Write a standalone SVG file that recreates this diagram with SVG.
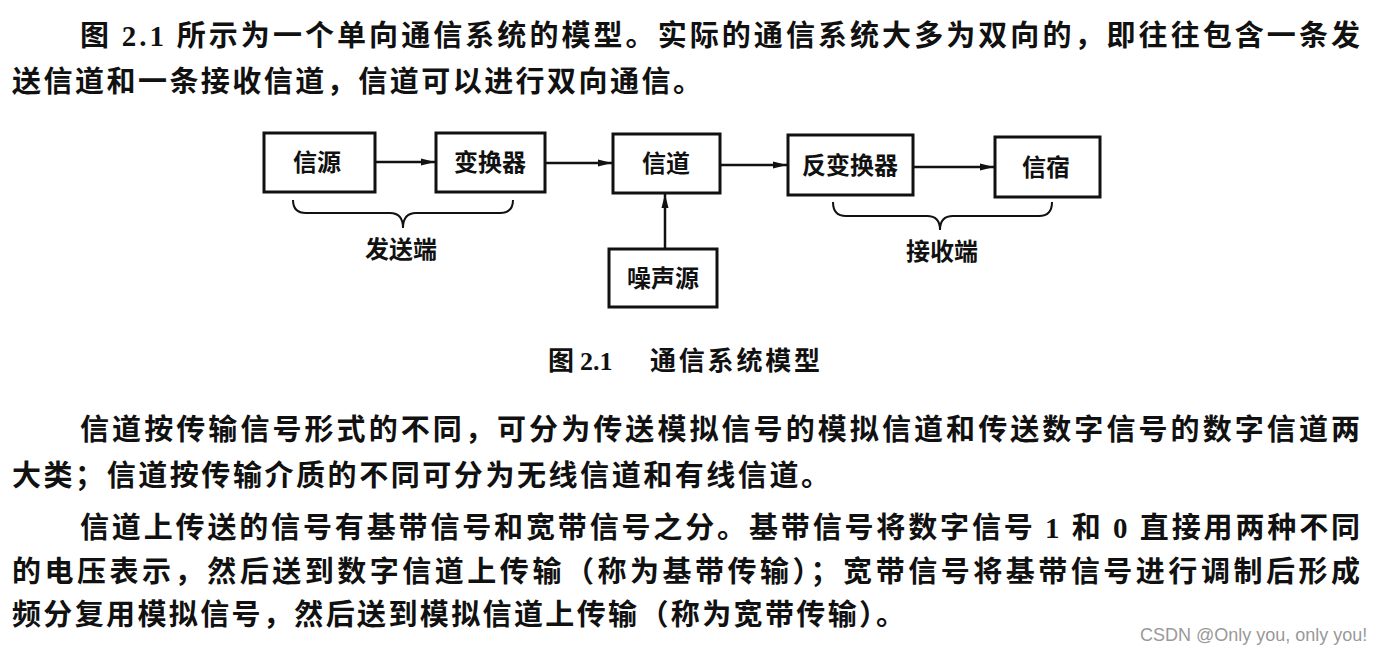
<svg xmlns="http://www.w3.org/2000/svg" width="1388" height="656" viewBox="0 0 1388 656">
<style>
.p{font-family:"Noto Sans CJK SC","Liberation Serif",serif;font-size:29px;font-weight:600;fill:#111}
.box{fill:#fff;stroke:#111;stroke-width:3}
.bl{font-family:"Noto Sans CJK SC",sans-serif;font-size:24px;font-weight:600;fill:#111;text-anchor:middle}
.cap{font-family:"Noto Sans CJK SC","Liberation Serif",serif;font-size:26px;font-weight:600;fill:#111}
.ln{stroke:#111;stroke-width:2.5;fill:none}
.br{stroke:#111;stroke-width:2;fill:none}
.wm{font-family:"Liberation Sans",Arial,sans-serif;font-size:18px;fill:#999}
</style>
<defs>
<marker id="ah" viewBox="0 0 14 8" refX="14" refY="4" markerWidth="14" markerHeight="8" markerUnits="userSpaceOnUse" orient="auto">
<path d="M0,0.5 L14,4 L0,7.5 Z" fill="#111"/>
</marker>
</defs>
<rect width="1388" height="656" fill="#fff"/>
<text class="p" x="80" y="46" textLength="1280" lengthAdjust="spacing">图 <tspan font-family="Liberation Serif">2.1</tspan> 所示为一个单向通信系统的模型。实际的通信系统大多为双向的，即往往包含一条发</text>
<text class="p" x="12" y="92" textLength="690" lengthAdjust="spacing">送信道和一条接收信道，信道可以进行双向通信。</text>
<g id="n1"><rect class="box" x="264" y="133" width="111" height="59"/><text class="bl" x="317" y="171">信源</text></g>
<g id="n2"><rect class="box" x="436" y="133" width="109" height="59"/><text class="bl" x="490" y="171">变换器</text></g>
<g id="n3"><rect class="box" x="613" y="134" width="107" height="59"/><text class="bl" x="666" y="172">信道</text></g>
<g id="n4"><rect class="box" x="788" y="135" width="125" height="60"/><text class="bl" x="850" y="174">反变换器</text></g>
<g id="n5"><rect class="box" x="995" y="137" width="105" height="60"/><text class="bl" x="1046" y="176">信宿</text></g>
<g id="n6"><rect class="box" x="609" y="249" width="108" height="58"/><text class="bl" x="663" y="287">噪声源</text></g>
<g id="connectors">
<line class="ln" x1="375" y1="162" x2="435" y2="162" marker-end="url(#ah)"/>
<line class="ln" x1="545" y1="163" x2="612" y2="163" marker-end="url(#ah)"/>
<line class="ln" x1="720" y1="165" x2="787" y2="165" marker-end="url(#ah)"/>
<line class="ln" x1="913" y1="167" x2="994" y2="167" marker-end="url(#ah)"/>
<line class="ln" x1="665" y1="249" x2="665" y2="194" marker-end="url(#ah)"/>
<path class="br" d="M293,200 Q293,213 306,213 L390,213 Q403,213 403,228 Q403,213 416,213 L500,213 Q513,213 513,200"/>
<path class="br" d="M833,202 Q833,216 846,216 L927,216 Q940,216 940,230 Q940,216 953,216 L1039,216 Q1052,216 1052,202"/>
</g>
<text class="bl" x="401" y="258">发送端</text>
<text class="bl" x="942" y="260">接收端</text>
<text class="cap" x="548" y="370">图 <tspan font-family="Liberation Serif" font-weight="bold">2.1</tspan><tspan x="650" textLength="170" lengthAdjust="spacing">通信系统模型</tspan></text>
<text class="p" x="80" y="440" textLength="1280" lengthAdjust="spacing">信道按传输信号形式的不同，可分为传送模拟信号的模拟信道和传送数字信号的数字信道两</text>
<text class="p" x="12" y="486" textLength="818" lengthAdjust="spacing">大类；信道按传输介质的不同可分为无线信道和有线信道。</text>
<text class="p" x="80" y="538" textLength="1280" lengthAdjust="spacing">信道上传送的信号有基带信号和宽带信号之分。基带信号将数字信号 <tspan font-family="Liberation Serif">1</tspan> 和 <tspan font-family="Liberation Serif">0</tspan> 直接用两种不同</text>
<text class="p" x="12" y="582" textLength="1348" lengthAdjust="spacing">的电压表示，然后送到数字信道上传输（称为基带传输）；宽带信号将基带信号进行调制后形成</text>
<text class="p" x="12" y="625" textLength="893" lengthAdjust="spacing">频分复用模拟信号，然后送到模拟信道上传输（称为宽带传输）。</text>
<text class="wm" x="1140" y="641">CSDN @Only you, only you!</text>
</svg>
